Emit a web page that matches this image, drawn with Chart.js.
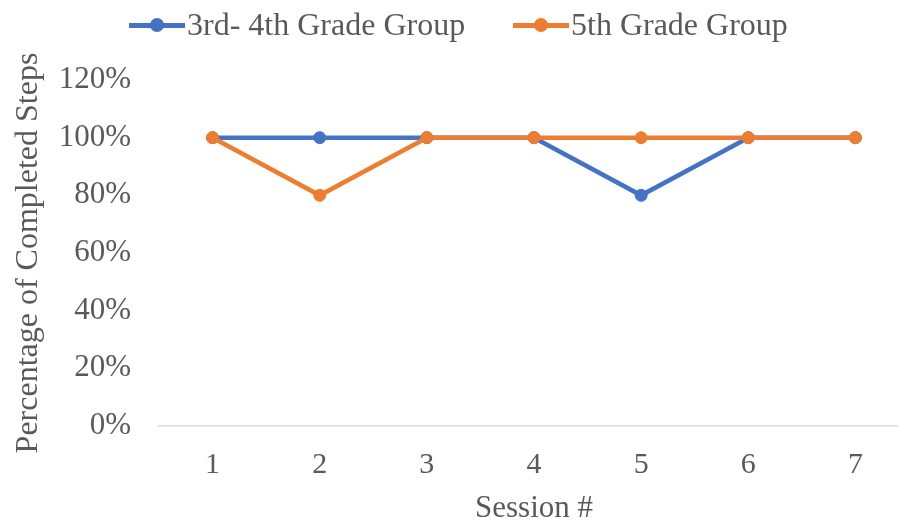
<!DOCTYPE html>
<html>
<head>
<meta charset="utf-8">
<script src="https://cdn.jsdelivr.net/npm/chart.js@4"></script>
<style>
  html, body { margin: 0; padding: 0; background: #fff; overflow: hidden; }
  #wrap { position: relative; width: 916px; height: 527px; }
  #legend { position: absolute; left: 0; top: 0; width: 898px; height: 50px;
    font-family: "Liberation Serif", serif; font-size: 32px; color: #595959; }
  .item { position: absolute; top: 5px; height: 38px; line-height: 38px; white-space: nowrap; }
  .mark { position: absolute; top: 18px; height: 5px; width: 56px; }
  .dot { position: absolute; left: 21px; top: -5px; width: 14px; height: 14px; border-radius: 50%; }
  .lbl { position: absolute; left: 58px; top: 0; }
</style>
</head>
<body>
<div id="wrap">
  <canvas id="myChart" width="916" height="527"></canvas>
  <div id="legend"></div>
</div>
<script>
'use strict';
// data
const sessions = ['1', '2', '3', '4', '5', '6', '7'];
const group34 = [1, 1, 1, 1, 0.8, 1, 1];
const group5 = [1, 0.8, 1, 1, 1, 1, 1];
const seriesNames = ['3rd- 4th Grade Group', '5th Grade Group'];
const seriesColors = ['#4472C4', '#ED7D31'];
const legendLeft = [129, 513];

const textColor = '#595959';
const font = 'Liberation Serif';

//legend (html)
let html = '';
seriesNames.forEach(function (name, i) {
    html += '<div class="item" style="left:' + legendLeft[i] + 'px">' +
        '<div class="mark" style="background:' + seriesColors[i] + '">' +
        '<div class="dot" style="background:' + seriesColors[i] + '"></div></div>' +
        '<span class="lbl">' + name + '</span></div>';
});
document.getElementById('legend').innerHTML = html;

const makeSet = function (label, values, color, order) {
    return {
        label: label,
        data: values,
        borderColor: color,
        backgroundColor: color,
        pointBackgroundColor: color,
        pointBorderColor: color,
        borderWidth: 4.5,
        pointRadius: 6,
        pointBorderWidth: 1,
        tension: 0,
        order: order,
    };
};

const config = {
    type: 'line',
    data: {
        labels: sessions,
        datasets: [
            makeSet(seriesNames[0], group34, seriesColors[0], 1),
            makeSet(seriesNames[1], group5, seriesColors[1], 0),
        ],
    },
    options: {
        responsive: false,
        animation: false,
        layout: { padding: { top: 80, left: 0, right: 0, bottom: 0 } },
        plugins: {
            legend: { display: false },
            tooltip: { enabled: false },
        },
        scales: {
            x: {
                offset: true,
                grid: { display: false, drawTicks: false },
                border: { display: true, color: '#D9D9D9', width: 1.5 },
                ticks: { color: textColor, font: { family: font, size: 30 }, padding: 21 },
                title: {
                    display: true,
                    text: 'Session #',
                    color: textColor,
                    font: { family: font, size: 31 },
                    padding: { top: 0, bottom: 0 },
                },
                afterFit: function (scale) { scale.height = 101; },
            },
            y: {
                min: 0,
                max: 1.2,
                grid: { display: false, drawTicks: false },
                border: { display: false },
                ticks: {
                    stepSize: 0.2,
                    color: textColor,
                    font: { family: font, size: 31 },
                    padding: 28,
                    callback: function (v) { return Math.round(v * 100) + '%'; },
                },
                title: {
                    display: true,
                    text: 'Percentage of Completed Steps',
                    color: textColor,
                    font: { family: font, size: 32 },
                    padding: { top: 9, bottom: 0 },
                },
                afterFit: function (scale) { scale.width = 159; },
            },
        },
    },
};
const myChart = new Chart(document.getElementById('myChart'), config);
</script>
</body>
</html>
